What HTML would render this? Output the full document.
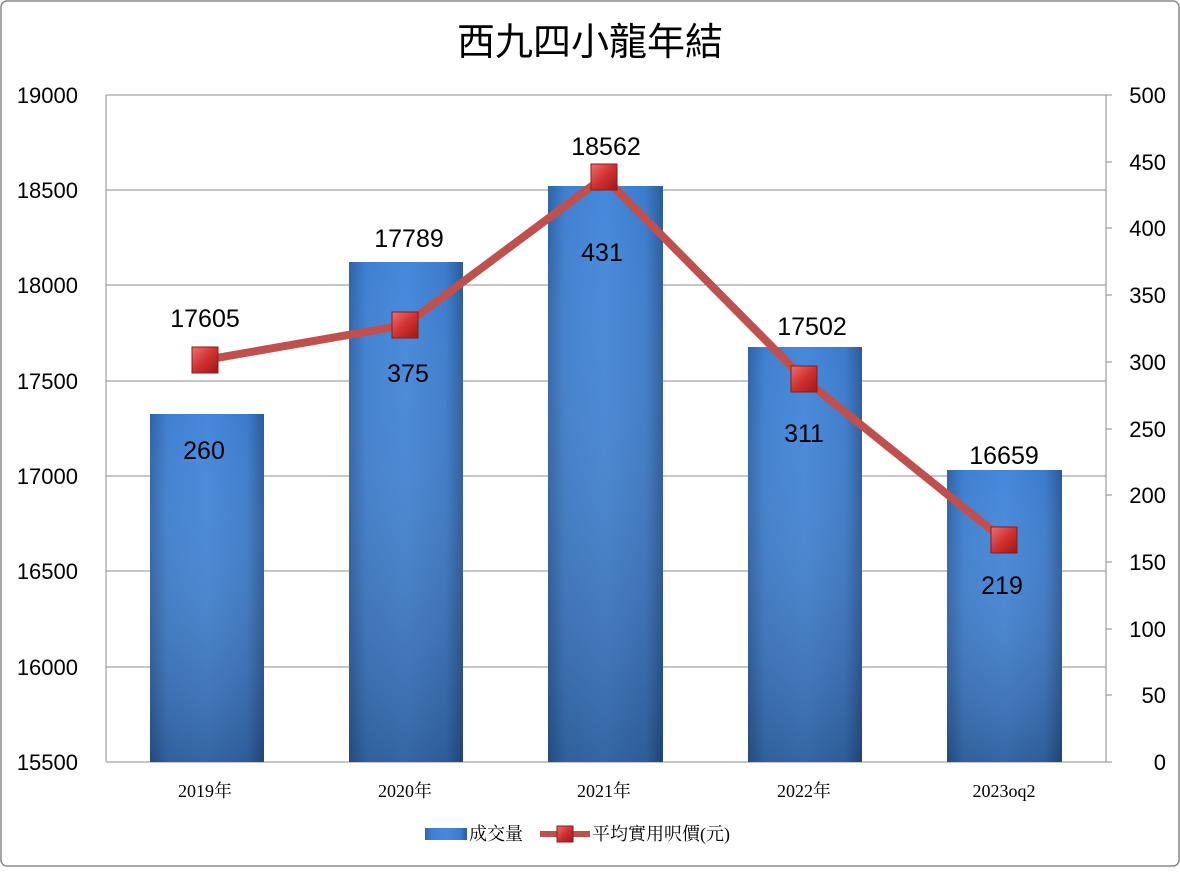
<!DOCTYPE html>
<html><head><meta charset="utf-8"><style>
body{margin:0;background:#fff}
svg text{font-family:"Liberation Sans","Noto Sans CJK TC",sans-serif}
</style></head><body>
<svg width="1180" height="867" xmlns="http://www.w3.org/2000/svg">
<defs>
<linearGradient id="bar" x1="0" y1="0" x2="1" y2="0">
<stop offset="0" stop-color="#2f63a8"/><stop offset="0.15" stop-color="#3f80d0"/><stop offset="0.5" stop-color="#4588da"/><stop offset="0.85" stop-color="#3c7bcb"/><stop offset="1" stop-color="#2a5a9c"/>
</linearGradient>
<linearGradient id="barv" x1="0" y1="0" x2="0" y2="1">
<stop offset="0" stop-color="#fff" stop-opacity="0"/><stop offset="1" stop-color="#000" stop-opacity="0.25"/>
</linearGradient>
<linearGradient id="mk" x1="0" y1="0" x2="1" y2="1">
<stop offset="0" stop-color="#f07070"/><stop offset="0.5" stop-color="#d03030"/><stop offset="1" stop-color="#a01818"/>
</linearGradient>
</defs>
<rect x="1" y="1" width="1178" height="865" rx="6" fill="#fff" stroke="#888" stroke-width="1.5"/>
<text x="590" y="55" font-size="38" text-anchor="middle" fill="#000">西九四小龍年結</text>
<g stroke="#8c8c8c" stroke-width="1">
<line x1="106" y1="95" x2="1106" y2="95"/><line x1="106" y1="190" x2="1106" y2="190"/>
<line x1="106" y1="285" x2="1106" y2="285"/><line x1="106" y1="381" x2="1106" y2="381"/>
<line x1="106" y1="476" x2="1106" y2="476"/><line x1="106" y1="571" x2="1106" y2="571"/>
<line x1="106" y1="667" x2="1106" y2="667"/><line x1="106" y1="762" x2="1106" y2="762"/>
<line x1="106" y1="95" x2="106" y2="762"/><line x1="1106" y1="95" x2="1106" y2="762"/>
</g>
<g stroke="#8c8c8c">
<line x1="1106" y1="95" x2="1112" y2="95"/><line x1="1106" y1="162" x2="1112" y2="162"/><line x1="1106" y1="228" x2="1112" y2="228"/><line x1="1106" y1="295" x2="1112" y2="295"/><line x1="1106" y1="362" x2="1112" y2="362"/><line x1="1106" y1="429" x2="1112" y2="429"/><line x1="1106" y1="495" x2="1112" y2="495"/><line x1="1106" y1="562" x2="1112" y2="562"/><line x1="1106" y1="629" x2="1112" y2="629"/><line x1="1106" y1="695" x2="1112" y2="695"/><line x1="1106" y1="762" x2="1112" y2="762"/>
</g>
<g font-size="22" fill="#000" text-anchor="end">
<text x="78" y="103">19000</text><text x="78" y="198">18500</text><text x="78" y="293">18000</text><text x="78" y="389">17500</text><text x="78" y="484">17000</text><text x="78" y="579">16500</text><text x="78" y="675">16000</text><text x="78" y="770">15500</text>
</g>
<g font-size="22" fill="#000" text-anchor="end">
<text x="1166" y="103">500</text><text x="1166" y="170">450</text><text x="1166" y="236">400</text><text x="1166" y="303">350</text><text x="1166" y="370">300</text><text x="1166" y="437">250</text><text x="1166" y="503">200</text><text x="1166" y="570">150</text><text x="1166" y="637">100</text><text x="1166" y="703">50</text><text x="1166" y="770">0</text>
</g>
<g>
<rect x="150" y="414" width="114" height="348" fill="url(#bar)"/><rect x="150" y="414" width="114" height="348" fill="url(#barv)"/>
<rect x="349" y="262" width="114" height="500" fill="url(#bar)"/><rect x="349" y="262" width="114" height="500" fill="url(#barv)"/>
<rect x="548" y="186" width="115" height="576" fill="url(#bar)"/><rect x="548" y="186" width="115" height="576" fill="url(#barv)"/>
<rect x="748" y="347" width="114" height="415" fill="url(#bar)"/><rect x="748" y="347" width="114" height="415" fill="url(#barv)"/>
<rect x="947" y="470" width="115" height="292" fill="url(#bar)"/><rect x="947" y="470" width="115" height="292" fill="url(#barv)"/>
</g>
<polyline points="205,360 405,325 604,177 804,379 1004,540" fill="none" stroke="#c0504d" stroke-width="8" stroke-linejoin="round"/>
<g stroke="#8b1a1a" stroke-width="1" fill="url(#mk)">
<rect x="192" y="347" width="26" height="26"/><rect x="392" y="312" width="26" height="26"/><rect x="591" y="164" width="26" height="26"/><rect x="791" y="366" width="26" height="26"/><rect x="991" y="527" width="26" height="26"/>
</g>
<g font-size="25" fill="#000" text-anchor="middle">
<text x="205" y="327">17605</text><text x="409" y="247">17789</text><text x="606" y="155">18562</text><text x="812" y="335">17502</text><text x="1004" y="464">16659</text>
<text x="204" y="459">260</text><text x="408" y="382">375</text><text x="602" y="261">431</text><text x="804" y="442">311</text><text x="1002" y="594">219</text>
</g>
<g font-size="18" fill="#000" text-anchor="middle">
<text x="205" y="797" style="font-family:'Liberation Serif','Noto Serif CJK SC',serif">2019年</text>
<text x="405" y="797" style="font-family:'Liberation Serif','Noto Serif CJK SC',serif">2020年</text>
<text x="604" y="797" style="font-family:'Liberation Serif','Noto Serif CJK SC',serif">2021年</text>
<text x="804" y="797" style="font-family:'Liberation Serif','Noto Serif CJK SC',serif">2022年</text>
<text x="1004" y="797" style="font-family:'Liberation Serif','Noto Serif CJK SC',serif">2023oq2</text>
</g>
<rect x="425" y="828" width="42" height="12" fill="url(#bar)"/>
<text x="469" y="840" font-size="18" fill="#000" style="font-family:'Liberation Serif','Noto Serif CJK SC',serif">成交量</text>
<line x1="540" y1="834" x2="590" y2="834" stroke="#c0504d" stroke-width="6"/>
<rect x="557" y="826" width="16" height="16" fill="url(#mk)" stroke="#8b1a1a"/>
<text x="592" y="840" font-size="18" fill="#000" style="font-family:'Liberation Serif','Noto Serif CJK SC',serif">平均實用呎價(元)</text>
</svg>
</body></html>
